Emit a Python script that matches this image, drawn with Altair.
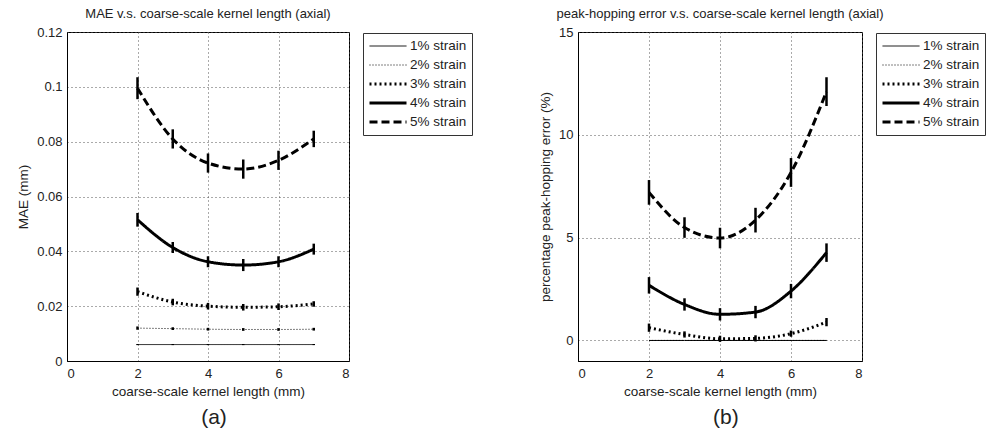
import altair as alt
import pandas as pd

kernel = [2, 3, 4, 5, 6, 7]
series_names = ["1% strain", "2% strain", "3% strain", "4% strain", "5% strain"]
series_width = [1, 1, 3, 3, 3]
series_dash = [[1, 0], [1, 2], [2, 3], [1, 0], [8, 4]]

# (a) MAE (mm)
mae_1 = [0.006, 0.006, 0.006, 0.006, 0.006, 0.006]
mae_2 = [0.012, 0.0118, 0.0116, 0.0115, 0.0115, 0.0116]
mae_3 = [0.0253, 0.0215, 0.0200, 0.0196, 0.0198, 0.0208]
mae_4 = [0.0515, 0.0414, 0.0362, 0.0350, 0.0362, 0.0408]
mae_5 = [0.0995, 0.0810, 0.0722, 0.0700, 0.0732, 0.0810]
mae_err_1 = [0.0002, 0.0002, 0.0002, 0.0002, 0.0002, 0.0002]
mae_err_2 = [0.0006, 0.0005, 0.0005, 0.0005, 0.0005, 0.0005]
mae_err_3 = [0.0015, 0.0012, 0.0012, 0.0012, 0.0012, 0.0010]
mae_err_4 = [0.0025, 0.0020, 0.0020, 0.0022, 0.0020, 0.0020]
mae_err_5 = [0.0040, 0.0035, 0.0035, 0.0035, 0.0035, 0.0030]

# (b) percentage peak-hopping error (%)
ph_1 = [0.0, 0.0, 0.0, 0.0, 0.0, 0.0]
ph_2 = [0.0, 0.0, 0.0, 0.0, 0.0, 0.0]
ph_3 = [0.62, 0.29, 0.08, 0.10, 0.33, 0.89]
ph_4 = [2.68, 1.75, 1.27, 1.38, 2.40, 4.27]
ph_5 = [7.20, 5.49, 4.98, 5.85, 8.17, 12.10]
ph_err_1 = [0.0, 0.0, 0.0, 0.0, 0.0, 0.0]
ph_err_2 = [0.0, 0.0, 0.0, 0.0, 0.0, 0.0]
ph_err_3 = [0.20, 0.15, 0.15, 0.15, 0.15, 0.20]
ph_err_4 = [0.40, 0.30, 0.30, 0.30, 0.35, 0.45]
ph_err_5 = [0.60, 0.50, 0.50, 0.60, 0.70, 0.70]


def build(values, errs):
    rows = []
    for name, vals, es in zip(series_names, values, errs):
        for k, v, e in zip(kernel, vals, es):
            rows.append({"kernel": k, "series": name, "value": v,
                         "lo": v - e, "hi": v + e})
    return pd.DataFrame(rows)


df_a = build([mae_1, mae_2, mae_3, mae_4, mae_5],
             [mae_err_1, mae_err_2, mae_err_3, mae_err_4, mae_err_5])
df_b = build([ph_1, ph_2, ph_3, ph_4, ph_5],
             [ph_err_1, ph_err_2, ph_err_3, ph_err_4, ph_err_5])


def make_legend(w):
    return alt.Legend(
        title=None, orient="none", legendX=w + 14, legendY=1, symbolType="stroke",
        symbolSize=1369, symbolStrokeColor="black", labelFontSize=13.5,
        labelColor="#222", strokeColor="#333", padding=5, rowPadding=3,
        clipHeight=16, labelOffset=2,
    )


def panel(df, ydomain, yvalues, yfmt, ytitle, top_title, w):
    base = alt.Chart(df)
    lg = make_legend(w)
    x = alt.X("kernel:Q", scale=alt.Scale(domain=[0, 8], nice=False),
              axis=alt.Axis(values=[0, 2, 4, 6, 8], title="coarse-scale kernel length (mm)"))
    y = alt.Y("value:Q", scale=alt.Scale(domain=ydomain, nice=False, zero=False),
              axis=alt.Axis(values=yvalues, format=yfmt, title=ytitle))
    lines = base.mark_line(color="black", interpolate="monotone").encode(
        x=x, y=y,
        strokeDash=alt.StrokeDash("series:N",
                                  scale=alt.Scale(domain=series_names, range=series_dash),
                                  legend=lg),
        strokeWidth=alt.StrokeWidth("series:N",
                                    scale=alt.Scale(type="ordinal", domain=series_names,
                                                    range=series_width),
                                    legend=lg),
        detail="series:N",
    )
    bars = base.mark_rule(color="black", strokeWidth=2.5).encode(
        x="kernel:Q", y="lo:Q", y2="hi:Q")
    return alt.layer(lines, bars).properties(
        width=w, height=329,
        title=alt.Title(top_title, fontSize=13, fontWeight="normal", color="#222", offset=5),
    )


pa = panel(df_a, [0, 0.12], [0, 0.02, 0.04, 0.06, 0.08, 0.1, 0.12], "~g", "MAE (mm)",
           "MAE v.s. coarse-scale kernel length (axial)", 282)
pb = panel(df_b, [-1, 15], [0, 5, 10, 15], "d", "percentage peak-hopping error (%)",
           "peak-hopping error v.s. coarse-scale kernel length (axial)", 284)

va = alt.vconcat(pa, title=alt.Title("(a)", orient="bottom", anchor="start", dx=185,
                                     fontSize=21, fontWeight="normal", color="#222", offset=9))
vb = alt.vconcat(pb, title=alt.Title("(b)", orient="bottom", anchor="start", dx=175,
                                     fontSize=21, fontWeight="normal", color="#222", offset=9))

chart = alt.hconcat(va, vb, spacing=65).resolve_scale(
    strokeDash="independent", strokeWidth="independent").resolve_legend(
    strokeDash="independent", strokeWidth="independent").configure(
    font="Liberation Sans",
    padding={"left": 16, "top": 7, "right": 0, "bottom": 0},
).configure_view(stroke="black", strokeWidth=1).configure_axis(
    grid=True, gridColor="#555", gridDash=[1, 3], gridWidth=1,
    domainColor="black", ticks=False, labelPadding=5,
    labelFontSize=13, labelColor="#222", titleFontSize=13.5, titleFontWeight="normal",
    titleColor="#222",
).configure_axisY(titlePadding=6).configure_axisX(titlePadding=4, labelPadding=6)

chart.save("out.html", embed_options={"renderer": "svg", "actions": False})
